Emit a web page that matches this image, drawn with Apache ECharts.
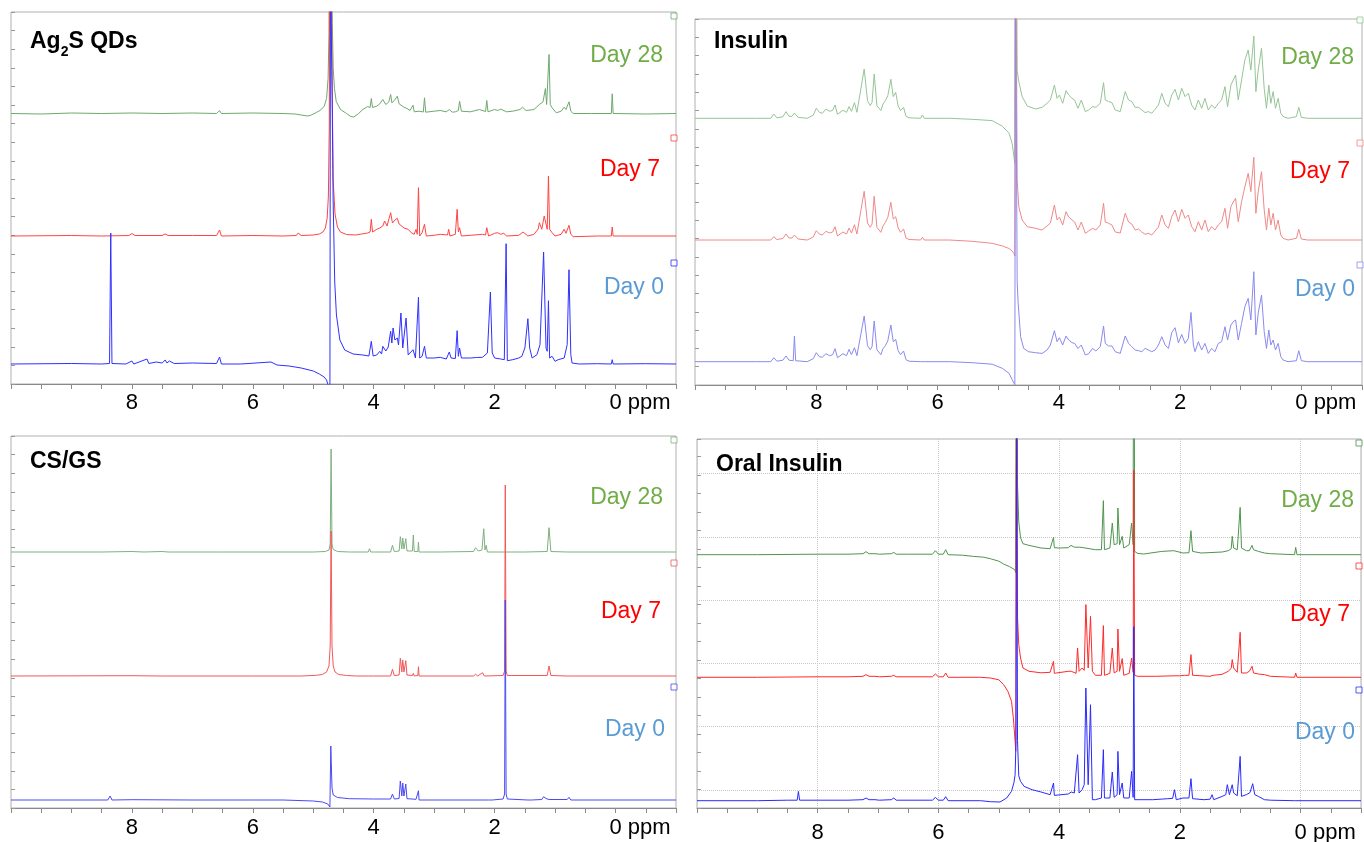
<!DOCTYPE html>
<html><head><meta charset="utf-8">
<script src="https://cdn.jsdelivr.net/npm/echarts@6/dist/echarts.min.js"></script>
<style>html,body{margin:0;padding:0;background:#fff}#c{width:1364px;height:842px}</style>
</head><body><div id="c"></div><script>
const FONT = '"Liberation Sans", Arial, sans-serif';
const xTickLabels = [8, 6, 4, 2, 0];
const panelTitles = ['{b|Ag}{s|2}{b|S QDs}', '{b|Insulin}', '{b|CS/GS}', '{b|Oral Insulin}'];
const dayLabels = ['Day 28', 'Day 7', 'Day 0'];
const dayLabelColors = ['#70AD47', '#FF0000', '#5B9BD5'];

// trace baselines (stack offsets) and offset-marker levels, per panel: [Day 28, Day 7, Day 0]
const agBase = [270.5, 148, 20];
const insBase = [266.7, 145, 23.3];
const csBase = [256, 132, 8];
const oralBase = [253.3, 130.7, 7.3];
const agMarks = [368, 246, 121];
const insMarks = [365, 242, 120];
const csMarks = [368, 245, 121];
const oralMarks = [365, 242, 118];
// horizontal reference lines of the Oral Insulin panel (intensity levels)
const oralGridLevels = [18, 81.3, 144.6, 207.9, 271.2, 334.5];

// spectra: [ppm, intensity above own baseline]
const ag_day28 = [[10,0],[9.5,-0.5],[9,0.5],[8.5,0],[8,0.5],[7.5,0],[7,0.5],[6.6,0],[6.55,3],[6.52,0],[6,0.5],[5.5,0],[5.3,-0.5],[5.2,-1.5],[5.1,-2.5],[5.05,-2],[4.95,1],[4.89,3],[4.82,7],[4.78,15],[4.755,35],[4.74,80],[4.725,400],[4.70,400],[4.685,90],[4.67,45],[4.65,25],[4.62,12],[4.55,4],[4.45,0],[4.38,-3],[4.33,-3.5],[4.25,0],[4.18,4],[4.10,7],[4.06,6],[4.04,15],[4.02,6],[3.95,7.3],[3.90,9.7],[3.85,14],[3.80,9],[3.75,11.7],[3.72,19],[3.70,10.7],[3.66,13],[3.61,17.3],[3.58,9.7],[3.55,9],[3.50,6.3],[3.45,5],[3.40,3],[3.35,8.3],[3.33,1.7],[3.25,2.3],[3.18,1.5],[3.16,15.7],[3.14,1.3],[3.0,2.3],[2.90,3],[2.80,1.7],[2.75,4],[2.70,1.3],[2.65,1.7],[2.60,3],[2.58,12.3],[2.55,2.3],[2.40,1.7],[2.25,4],[2.15,2],[2.13,13],[2.11,1.7],[2.0,4],[1.95,3],[1.90,4.3],[1.80,1.7],[1.70,2.3],[1.58,4],[1.54,6.3],[1.48,3],[1.35,4],[1.26,9],[1.20,11.7],[1.16,25],[1.14,9],[1.10,59],[1.08,9],[1.05,5.7],[1.02,4],[0.98,0.7],[0.90,2.3],[0.85,6.3],[0.82,4],[0.77,11.7],[0.74,2.3],[0.70,0],[0.4,0],[0.07,0],[0.055,19.7],[0.04,0],[-0.5,-0.5],[-1,0]];
const ag_day7 = [[10,0],[9,0.5],[8.5,0],[8.05,0.5],[8,2.5],[7.95,0.5],[7.5,0.5],[7.45,2],[7.4,0.5],[7,0.5],[6.6,0.5],[6.55,6],[6.52,0],[6,0.5],[5.5,0],[5.28,0.5],[5.25,3],[5.2,0.5],[5,1],[4.9,2],[4.84,4],[4.80,8],[4.77,18],[4.75,40],[4.735,110],[4.725,400],[4.70,400],[4.685,140],[4.67,55],[4.64,22],[4.60,9],[4.55,4],[4.45,1.5],[4.3,1],[4.2,2],[4.1,3],[4.06,4],[4.04,16.7],[4.02,4],[3.95,6.7],[3.90,8],[3.85,10],[3.82,15],[3.78,10],[3.72,23.3],[3.69,13],[3.65,16],[3.61,17.7],[3.58,12],[3.55,10.7],[3.50,8],[3.47,10],[3.43,6.7],[3.38,3.3],[3.33,1.7],[3.30,6.7],[3.28,1.7],[3.26,48.3],[3.24,0],[3.20,3.3],[3.16,11.7],[3.13,0],[3.0,0.7],[2.90,1.7],[2.78,1],[2.76,6.7],[2.74,0],[2.65,1.7],[2.62,26.7],[2.60,4],[2.58,8.3],[2.55,0],[2.40,0.7],[2.20,1.7],[2.15,1],[2.13,8.3],[2.10,0],[2.0,2.7],[1.95,3.3],[1.90,1.7],[1.85,2.7],[1.80,0],[1.60,0.7],[1.53,4],[1.45,0],[1.35,1.7],[1.28,7],[1.26,13.3],[1.22,6.7],[1.18,20],[1.16,21],[1.13,6.7],[1.11,60],[1.09,6.7],[1.05,3.3],[1,0],[0.9,1.7],[0.85,6.7],[0.82,2.7],[0.77,10.7],[0.74,1.7],[0.70,-0.7],[0.3,0],[0.07,0],[0.055,9],[0.04,0],[-0.5,0],[-1,0]];
const ag_day0 = [[10,0],[9,0.5],[8.5,0],[8.37,0.5],[8.35,131],[8.33,0.5],[8.1,0],[8,3],[7.97,0],[7.75,5],[7.72,0.5],[7.6,2],[7.5,1],[7.45,4],[7.42,1],[7.38,3],[7.3,0.5],[7,1],[6.6,0.5],[6.55,7],[6.52,0],[6.2,0],[5.7,2],[5.6,-1],[5.4,-2],[5.2,-4],[5,-7],[4.9,-10],[4.82,-13],[4.78,-16],[4.75,-22],[4.725,-30],[4.715,400],[4.70,400],[4.685,250],[4.672,166],[4.645,82],[4.617,49],[4.56,24],[4.48,14],[4.34,10],[4.18,9],[4.08,8],[4.04,22.7],[4.01,8],[3.95,9],[3.90,12.7],[3.87,10],[3.85,17.7],[3.80,13],[3.76,17],[3.72,32.7],[3.70,21],[3.68,36],[3.65,24],[3.61,26],[3.59,19],[3.55,51],[3.52,16],[3.465,46],[3.43,9],[3.40,7.7],[3.35,14.3],[3.31,6],[3.26,66.7],[3.24,6],[3.20,7.7],[3.16,17.7],[3.13,6],[3.0,6],[2.9,6.7],[2.8,5],[2.75,12],[2.72,6],[2.65,5.5],[2.62,33.3],[2.60,7.7],[2.58,16],[2.55,6],[2.4,6],[2.3,6.5],[2.2,6.7],[2.12,11],[2.07,72],[2.04,11],[2.0,6],[1.9,5],[1.84,4.3],[1.81,120.3],[1.79,3.3],[1.70,4.3],[1.60,6],[1.55,7.7],[1.50,16],[1.45,45.3],[1.42,16],[1.38,6],[1.30,9.3],[1.25,19.3],[1.19,112],[1.15,16],[1.13,12.7],[1.11,63.3],[1.09,6],[1.05,7.7],[1.0,2.7],[0.95,4.3],[0.85,6],[0.80,19.3],[0.77,94.3],[0.74,9.3],[0.72,1],[0.6,0],[0.3,0.3],[0.07,0],[0.055,4.3],[0.04,0],[-0.5,0.3],[-1,0]];

const ins_day28 = [[10,0],[9,0],[8.75,0],[8.70,4.3],[8.65,0.5],[8.55,1.5],[8.50,6.7],[8.45,2],[8.40,2],[8.36,5.3],[8.30,1],[8.15,0],[8.05,3],[8.00,10],[7.95,6],[7.90,5],[7.84,9.3],[7.78,7],[7.73,8],[7.69,13.3],[7.65,4],[7.56,8],[7.50,6],[7.46,11.7],[7.42,7],[7.37,15.7],[7.33,6],[7.265,29.3],[7.21,49.3],[7.155,17.7],[7.11,12.7],[7.08,16],[7.045,44.3],[7.0,12.7],[6.935,7.7],[6.90,14.3],[6.86,17.7],[6.82,22.7],[6.77,39],[6.73,21.7],[6.69,26],[6.65,12.3],[6.61,7.7],[6.56,11],[6.52,2],[6.47,0.5],[6.28,0],[6.25,3.3],[6.22,0],[5.8,0],[5.43,-1],[5.10,-2.3],[4.93,-8],[4.82,-15],[4.77,-25],[4.725,-45],[4.715,400],[4.70,400],[4.687,48],[4.66,36.7],[4.605,21.7],[4.52,12.3],[4.385,9.3],[4.276,11],[4.194,15],[4.139,18.3],[4.073,33.3],[4.029,20],[3.99,23.3],[3.936,15],[3.881,27.7],[3.837,23.3],[3.782,20],[3.739,18.3],[3.684,10],[3.629,18.3],[3.563,6.7],[3.508,8.3],[3.443,11.7],[3.388,11],[3.316,15],[3.262,35.7],[3.234,18.3],[3.179,16.7],[3.124,15.7],[3.07,8.3],[2.987,6.7],[2.905,26.7],[2.85,18.3],[2.796,16.7],[2.741,11],[2.686,11],[2.631,8.3],[2.576,5.7],[2.521,6.7],[2.467,5],[2.412,9],[2.357,13.3],[2.302,25],[2.247,15],[2.192,11.7],[2.138,23.3],[2.083,29],[2.028,18.3],[1.973,30],[1.918,21.7],[1.864,25],[1.809,13.3],[1.754,8.3],[1.699,18.3],[1.644,10],[1.59,20],[1.535,8.3],[1.48,13.3],[1.425,10],[1.37,15],[1.315,18.3],[1.26,31.7],[1.217,11.7],[1.162,33.3],[1.123,38.3],[1.085,43.3],[1.041,18.3],[0.986,38.3],[0.932,58.3],[0.877,68.3],[0.833,48.3],[0.784,82.3],[0.75,26.7],[0.712,48.3],[0.657,70],[0.613,30],[0.575,10],[0.537,33.3],[0.504,15],[0.465,26.7],[0.427,10],[0.383,20],[0.339,5],[0.301,1.7],[0.219,0],[0.082,1.7],[0.043,11],[0,1],[-0.1,0],[-1,0]];
const ins_day7 = [[10,0],[9,0],[8.75,0],[8.70,3.3],[8.65,0.5],[8.55,1.5],[8.50,6],[8.45,2],[8.40,2],[8.36,5],[8.30,1],[8.15,0],[8.05,3],[8.00,9.3],[7.95,6],[7.90,5],[7.84,8.7],[7.78,7],[7.73,8],[7.69,13.3],[7.65,4],[7.56,8],[7.50,6],[7.46,12],[7.42,7],[7.37,15.3],[7.33,6],[7.265,29.3],[7.21,48.7],[7.155,17],[7.11,12.7],[7.08,16],[7.045,43.7],[7.0,12.7],[6.935,7.7],[6.90,14],[6.86,17.7],[6.82,22.7],[6.77,37.7],[6.73,21],[6.69,23.3],[6.65,12],[6.61,7.7],[6.56,11],[6.52,2],[6.47,0.5],[6.28,0],[6.25,2.7],[6.22,0],[5.8,0],[5.43,-1.3],[5.10,-3.3],[4.93,-6],[4.82,-8.5],[4.77,-11],[4.74,-13.3],[4.725,-16],[4.715,400],[4.70,400],[4.687,60],[4.66,33.3],[4.605,20],[4.52,13.3],[4.385,11.7],[4.276,10],[4.194,14],[4.139,17],[4.073,35],[4.029,20],[3.99,23],[3.936,15],[3.881,28.3],[3.837,23],[3.782,20],[3.739,18],[3.684,10],[3.629,18],[3.563,6.7],[3.508,9],[3.443,11.7],[3.388,10],[3.316,15],[3.262,36.7],[3.234,18],[3.179,16.7],[3.124,15],[3.07,8],[2.987,7],[2.905,26.7],[2.85,18],[2.796,16],[2.741,10],[2.686,11],[2.631,8],[2.576,5.7],[2.521,6.7],[2.467,5],[2.412,9],[2.357,13],[2.302,25],[2.247,15],[2.192,11.7],[2.138,23.3],[2.083,30],[2.028,18.3],[1.973,30.7],[1.918,21.7],[1.864,25],[1.809,13.3],[1.754,8.3],[1.699,18.3],[1.644,10],[1.59,20],[1.535,8.3],[1.48,13.3],[1.425,10],[1.37,15],[1.315,18.3],[1.26,31.7],[1.217,11.7],[1.162,33.3],[1.123,38],[1.085,41.7],[1.041,18.3],[0.986,38.3],[0.932,53],[0.877,66.7],[0.833,48.3],[0.784,82.7],[0.75,26.7],[0.712,48.3],[0.657,68.3],[0.613,30],[0.575,10],[0.537,31.7],[0.504,15],[0.465,26.7],[0.427,10],[0.383,20],[0.339,5],[0.301,1.7],[0.219,0],[0.082,1.7],[0.043,10.7],[0,1],[-0.1,0],[-1,0]];
const ins_day0 = [[10,0],[9,0],[8.75,0],[8.70,4],[8.65,0.5],[8.55,1.5],[8.50,5.7],[8.45,1.5],[8.38,1],[8.36,25.7],[8.34,1],[8.15,0],[8.05,3],[8.00,9],[7.95,5],[7.90,4.5],[7.84,8],[7.78,6],[7.73,7],[7.69,13],[7.65,4],[7.56,8],[7.50,6],[7.46,12.3],[7.42,7],[7.37,14],[7.33,6],[7.265,27.3],[7.21,45.7],[7.155,16],[7.11,12],[7.08,15],[7.045,40.7],[7.0,12],[6.935,7],[6.90,13],[6.86,16],[6.82,21],[6.77,36.7],[6.73,20],[6.69,22.3],[6.65,11],[6.61,7],[6.56,10.7],[6.52,2],[6.47,0.5],[6.28,0],[6.25,1.3],[6.22,0],[5.8,0],[5.43,-1],[5.10,-2.5],[4.93,-6.7],[4.82,-11.7],[4.77,-18],[4.725,-23],[4.715,400],[4.70,400],[4.687,80],[4.67,58],[4.63,25],[4.58,13.3],[4.50,10],[4.385,9],[4.276,8.3],[4.194,11.7],[4.139,16.7],[4.073,31],[4.029,20],[3.99,24],[3.936,16.7],[3.881,25.7],[3.837,21.7],[3.782,19],[3.739,18.3],[3.684,13.3],[3.629,16.7],[3.563,6.7],[3.508,8],[3.443,13.3],[3.388,10.7],[3.316,15],[3.262,35.7],[3.234,18.3],[3.179,15.7],[3.124,15.7],[3.07,10],[2.987,8.3],[2.905,25.7],[2.85,18.3],[2.796,15],[2.741,11.7],[2.686,11],[2.631,10],[2.576,13.3],[2.521,11.7],[2.467,10],[2.412,11.7],[2.357,16.7],[2.302,25],[2.247,16.7],[2.192,13.3],[2.138,29],[2.083,34],[2.028,19],[1.973,27.3],[1.918,18.3],[1.864,23.3],[1.82,49.3],[1.781,16.7],[1.754,10],[1.699,20],[1.644,11.7],[1.59,18.3],[1.535,8.3],[1.48,13.3],[1.425,10],[1.37,18.3],[1.315,20],[1.26,35],[1.217,21.7],[1.162,36.7],[1.123,40],[1.085,41.7],[1.041,21.7],[0.986,38.3],[0.932,55],[0.877,63.3],[0.833,41.7],[0.784,90],[0.75,26.7],[0.712,48.3],[0.657,66.7],[0.613,30],[0.575,13.3],[0.537,31.7],[0.504,16.7],[0.465,21.7],[0.427,11.7],[0.383,18.3],[0.339,5],[0.301,1.7],[0.219,0],[0.082,1],[0.043,11],[0,1],[-0.1,0],[-1,0]];

const cs_day28 = [[10,0],[8.5,0],[8,0.5],[7.8,0],[7.5,0.5],[7.4,0],[6.5,0],[5,0],[4.80,0.5],[4.74,2],[4.72,8],[4.705,103],[4.69,8],[4.67,2.5],[4.6,0.5],[4.4,0],[4.09,0],[4.07,3.3],[4.05,0],[3.72,0],[3.69,6.7],[3.66,0.5],[3.58,1],[3.56,15.3],[3.535,3],[3.52,14],[3.50,3],[3.47,13.3],[3.45,1],[3.36,1],[3.345,17],[3.33,0.5],[3.27,0.5],[3.26,10],[3.25,0],[2.9,0],[2.35,0.5],[2.315,4.3],[2.27,1],[2.21,2],[2.18,23.3],[2.16,2],[2.14,6.7],[2.12,0],[1.85,0],[1.83,1.5],[1.81,0],[1.5,0],[1.13,0.5],[1.10,24.3],[1.07,0.5],[0.8,0],[0.77,0.5],[0.06,0],[0.055,1],[0.04,0],[-1,0]];
const cs_day7 = [[10,0],[8,0.3],[7.5,0],[6,0],[5.2,0],[4.95,0.7],[4.85,1.5],[4.78,4],[4.74,10],[4.72,30],[4.705,145],[4.69,30],[4.67,10],[4.64,4],[4.58,1.5],[4.45,0.5],[4.3,0],[4.09,0],[4.07,1.3],[4.0,0],[3.72,0],[3.69,6.7],[3.66,0.5],[3.58,1],[3.56,17.7],[3.535,4],[3.52,16],[3.50,4],[3.47,15.3],[3.45,1],[3.36,0.5],[3.345,2.7],[3.33,0],[3.27,0.5],[3.26,9.3],[3.25,0],[2.35,0],[2.315,1.7],[2.28,0],[2.20,3.3],[2.17,0],[1.86,0.5],[1.835,5],[1.824,191],[1.81,5],[1.79,0.5],[1.13,0.5],[1.10,10],[1.07,0.5],[0.8,0],[0.77,1],[0.74,0],[-1,0]];
const cs_day0 = [[10,0],[8.4,0],[8.36,4],[8.33,0],[8,0.3],[7,0],[6,0],[5.5,0],[5,-1],[4.85,-2],[4.76,-4],[4.725,-7],[4.71,54],[4.69,12],[4.67,5],[4.6,2.5],[4.4,1.3],[4,1],[3.72,1],[3.69,6],[3.66,1],[3.58,1.5],[3.56,19],[3.535,4],[3.52,17],[3.50,4],[3.47,16],[3.45,1.3],[3.30,0.7],[3.26,9.3],[3.25,0],[2.10,0],[2.07,1.7],[2.04,0],[1.86,1],[1.835,6],[1.824,200],[1.81,6],[1.79,1],[1.45,0],[1.42,1.7],[1.39,0],[1.22,0.5],[1.19,3.3],[1.15,1.5],[1.13,2.3],[1.10,0.5],[0.80,0.5],[0.77,2.7],[0.74,0],[-1,0]];

const oral_day28 = [[10,0],[9,0],[8,0.5],[7.5,0.5],[7.25,1],[7.20,3],[7.15,1],[7.05,1],[7.02,2.3],[6.98,0.5],[6.78,1],[6.74,2.3],[6.70,0.5],[6.5,0.5],[6.1,0.5],[6.05,4],[6.0,0.5],[5.92,0.5],[5.88,5],[5.84,0],[5.6,-0.5],[5.42,-1.7],[5.25,-2.5],[5.14,-4],[5.0,-6.5],[4.92,-9.3],[4.82,-12],[4.735,-15],[4.72,-18],[4.705,400],[4.69,70],[4.67,33],[4.64,17],[4.60,11],[4.5,9.3],[4.3,6.7],[4.15,6],[4.094,17.3],[4.08,7],[4.0,6.7],[3.85,7],[3.804,9.3],[3.75,7.5],[3.66,7.5],[3.64,8.3],[3.60,7],[3.40,5],[3.30,5],[3.268,54],[3.25,5],[3.16,6.7],[3.12,31.7],[3.09,10],[3.04,11],[3.027,46.7],[3.0,10],[2.956,18.3],[2.93,6.7],[2.84,10],[2.80,31.7],[2.775,10],[2.764,400],[2.75,3.3],[2.70,1.3],[2.6,0.7],[2.3,3.3],[2.1,4],[1.95,1.7],[1.85,2],[1.817,24],[1.79,3.3],[1.65,1.7],[1.3,2.7],[1.20,4],[1.15,6],[1.133,18.3],[1.11,6.7],[1.05,5],[1.03,6.7],[1.002,47.3],[0.98,6.7],[0.90,4],[0.85,4],[0.805,9.3],[0.78,5],[0.70,3.3],[0.6,1.7],[0.5,1],[0.1,0],[0.082,7.3],[0.06,0],[-1,0]];
const oral_day7 = [[10,0],[9,0],[8,0.5],[7.5,0.5],[7.25,1],[7.20,2.7],[7.15,1],[7.05,1],[7.02,2],[6.98,0.5],[6.78,1],[6.74,2],[6.70,0.5],[6.1,0.5],[6.05,3.3],[6.0,0.5],[5.92,0.5],[5.88,4.3],[5.84,0],[5.3,0],[5.14,-0.7],[5.0,-2.5],[4.92,-7.3],[4.85,-14],[4.79,-24],[4.76,-40],[4.73,-64],[4.72,-74],[4.705,400],[4.69,60],[4.67,32.7],[4.64,19.3],[4.60,9.3],[4.5,6],[4.3,4.5],[4.15,5],[4.094,16],[4.08,4],[3.85,6],[3.80,6],[3.72,4],[3.695,29.3],[3.67,6],[3.62,9.3],[3.585,7],[3.558,72.7],[3.52,9.3],[3.481,61],[3.45,6],[3.40,2],[3.30,2],[3.268,51.7],[3.25,2],[3.16,4],[3.12,29.3],[3.09,4.5],[3.04,6],[3.027,48.3],[3.0,6],[2.956,18.7],[2.93,2],[2.84,4],[2.80,19.3],[2.775,5],[2.764,207],[2.75,2],[2.70,1],[2.4,1],[2.1,1.5],[2.07,3.3],[2.0,1.5],[1.92,2],[1.85,2],[1.817,22.7],[1.79,2],[1.5,1],[1.45,2],[1.3,3],[1.20,6],[1.15,9],[1.133,17.7],[1.11,9.3],[1.05,5],[1.03,6],[1.002,45],[0.98,4.3],[0.90,4.3],[0.85,6],[0.805,11],[0.78,4.3],[0.70,3.3],[0.6,2.7],[0.5,1],[0.1,0],[0.082,4.3],[0.06,0],[-1,0]];
const oral_day0 = [[10,0],[9,0],[8.5,0.5],[8.34,0.5],[8.32,9.3],[8.30,0.5],[8,0.5],[7.5,0.5],[7.25,1],[7.20,2.7],[7.15,1],[7.05,1],[7.02,2.7],[6.98,0.5],[6.78,1],[6.74,2.7],[6.70,0.5],[6.1,0.5],[6.05,3.3],[6.0,0.5],[5.92,0.5],[5.88,4],[5.84,0],[5.3,0],[5.14,-1],[4.98,-1.3],[4.87,2.7],[4.79,9.3],[4.75,18],[4.73,26],[4.715,60],[4.705,400],[4.69,60],[4.67,25],[4.64,19.3],[4.58,14.3],[4.45,11],[4.30,8.7],[4.15,6],[4.094,17.7],[4.08,5.3],[3.85,6.7],[3.80,8.7],[3.75,7.7],[3.72,8],[3.695,46],[3.67,7.7],[3.62,11],[3.585,16],[3.558,112.7],[3.52,16],[3.481,96],[3.45,1],[3.40,1],[3.30,2.7],[3.268,51],[3.25,2.7],[3.16,2.7],[3.12,28.7],[3.09,3.3],[3.04,6],[3.027,49.3],[3.0,6],[2.956,17.7],[2.93,2.7],[2.84,2.7],[2.80,29.3],[2.775,3.3],[2.764,174],[2.75,1],[2.45,1],[2.2,2],[2.12,2.3],[2.09,11],[2.06,1],[1.95,2.7],[1.85,2.7],[1.817,22],[1.79,2],[1.60,1],[1.5,1.5],[1.467,6],[1.44,1],[1.3,4.3],[1.24,6],[1.215,16],[1.18,6],[1.133,16],[1.11,7.7],[1.05,5],[1.03,7],[1.002,44.3],[0.98,4.3],[0.90,6],[0.84,8],[0.794,17],[0.76,6],[0.70,4.3],[0.60,1],[0.5,0.5],[0.1,0],[0.082,1],[0.06,0],[-1,0]];

// ---------- layout ----------
const panels = [
  { grid:{left:11, top:12, width:665, height:372}, H:372, margin:8, tickStep:18.6,
    base:agBase, marks:agMarks, traces:[ag_day28, ag_day7, ag_day0],
    colors:['#6fa86f','#ff4444','#3030ff'], title:[30,42], labels:[[663,56],[660,170],[664,288]] },
  { grid:{left:695, top:19, width:667, height:366}, H:366, margin:7, tickStep:18.3,
    base:insBase, marks:insMarks, traces:[ins_day28, ins_day7, ins_day0],
    colors:['#96c496','#f08888','#8a8aee'], title:[714,42], labels:[[1354,58],[1350,172],[1355,290]] },
  { grid:{left:11, top:436, width:665, height:372}, H:372, margin:9, tickStep:18.6,
    base:csBase, marks:csMarks, traces:[cs_day28, cs_day7, cs_day0],
    colors:['#7fb07f','#f25858','#4a4af2'], title:[30,462], labels:[[663,498],[661,612],[665,730]] },
  { grid:{left:697, top:439, width:664, height:369}, H:369, margin:14, tickStep:18.5, gridLevels:oralGridLevels,
    base:oralBase, marks:oralMarks, traces:[oral_day28, oral_day7, oral_day0],
    colors:['#4f944f','#ff2a2a','#2a2aff'], title:[716,465], labels:[[1354,501],[1350,615],[1355,733]] }
];

const option = { animation:false, backgroundColor:'#fff', grid:[], xAxis:[], yAxis:[], series:[], title:[] };
const extraX = [];

panels.forEach((p, i) => {
  option.grid.push(Object.assign({ show:true, borderColor:'#b0b0b0', borderWidth:1, containLabel:false, outerBoundsMode:'none' }, p.grid));
  option.xAxis.push({
    type:'value', gridIndex:i, min:0, max:11, interval:0.5, position:'bottom',
    axisLine:{ show:true, lineStyle:{ color:'#8a8a8a', width:1 } },
    axisTick:{ show:true, length:5, inside:false, lineStyle:{ color:'#8a8a8a' } },
    splitLine:{ show:false },
    axisLabel:{
      show:true, margin:p.margin, color:'#000', fontSize:22, fontFamily:FONT, hideOverlap:false,
      formatter: v => {
        const ppm = Math.round((10 - v) * 2) / 2;
        if (ppm === 0) return '{z|0 ppm}';
        return xTickLabels.indexOf(ppm) >= 0 ? String(ppm) : '';
      },
      rich:{ z:{ fontSize:22, fontFamily:FONT, color:'#000', padding:[0,0,0,49] } }
    }
  });
  option.yAxis.push({
    type:'value', gridIndex:i, min:0, max:p.H, interval:p.tickStep, position:'right',
    axisLine:{ show:false }, axisLabel:{ show:false }, splitLine:{ show:false },
    axisTick:{ show:true, length:4, inside:false, lineStyle:{ color:'#9a9a9a' } }
  });
  if (p.gridLevels) {
    option.series.push({
      type:'line', xAxisIndex:i, yAxisIndex:i, silent:true, data:[[0, p.gridLevels[0]]], symbol:'none',
      lineStyle:{ opacity:0 }, z:1,
      markLine:{ silent:true, symbol:['none','none'], label:{ show:false }, z:1,
        lineStyle:{ color:'#c8c8c8', type:'dotted', width:1 },
        data: p.gridLevels.map(v => ({ yAxis:v })) }
    });
    extraX.push({ type:'value', gridIndex:i, min:0, max:11, interval:2, position:'bottom',
      axisLine:{show:false}, axisTick:{show:false}, axisLabel:{show:false},
      splitLine:{ show:true, lineStyle:{ color:'#c8c8c8', type:'dotted', width:1 } } });
  }
  p.traces.forEach((t, k) => {
    option.series.push({
      type:'line', xAxisIndex:i, yAxisIndex:i, silent:true, clip:true,
      symbol:'none', showSymbol:false, z:2 + k,
      lineStyle:{ width:1, color:p.colors[k] }, itemStyle:{ color:p.colors[k] },
      data: t.map(([ppm, r]) => [10 - ppm, p.base[k] + r])
    });
  });
  option.series.push({
    type:'scatter', xAxisIndex:i, yAxisIndex:i, silent:true, clip:false, z:6,
    symbol:'rect', symbolSize:6, symbolOffset:[-2, 0],
    itemStyle:{ color:'#fff', borderWidth:1 },
    data: p.marks.map((m, k) => ({ value:[11, m], itemStyle:{ color:'#fff', borderColor:p.colors[k], borderWidth:1 } }))
  });
  option.title.push({
    text: panelTitles[i], left:p.title[0], top:p.title[1], textVerticalAlign:'middle', padding:0,
    textStyle:{ fontFamily:FONT, fontSize:23, fontWeight:'bold', color:'#000',
      rich:{ b:{ fontFamily:FONT, fontSize:23, fontWeight:'bold', color:'#000', lineHeight:34 },
             s:{ fontFamily:FONT, fontSize:14, fontWeight:'bold', color:'#000', lineHeight:34, verticalAlign:'bottom' } } }
  });
  dayLabels.forEach((d, k) => {
    option.title.push({
      text:d, left:p.labels[k][0], top:p.labels[k][1], textAlign:'right', textVerticalAlign:'middle', padding:0,
      textStyle:{ fontFamily:FONT, fontSize:23, fontWeight:'normal', color:dayLabelColors[k] }
    });
  });
});
option.xAxis = option.xAxis.concat(extraX);

const chart = echarts.init(document.getElementById('c'), null, { renderer:'canvas' });
chart.setOption(option);
</script></body></html>
